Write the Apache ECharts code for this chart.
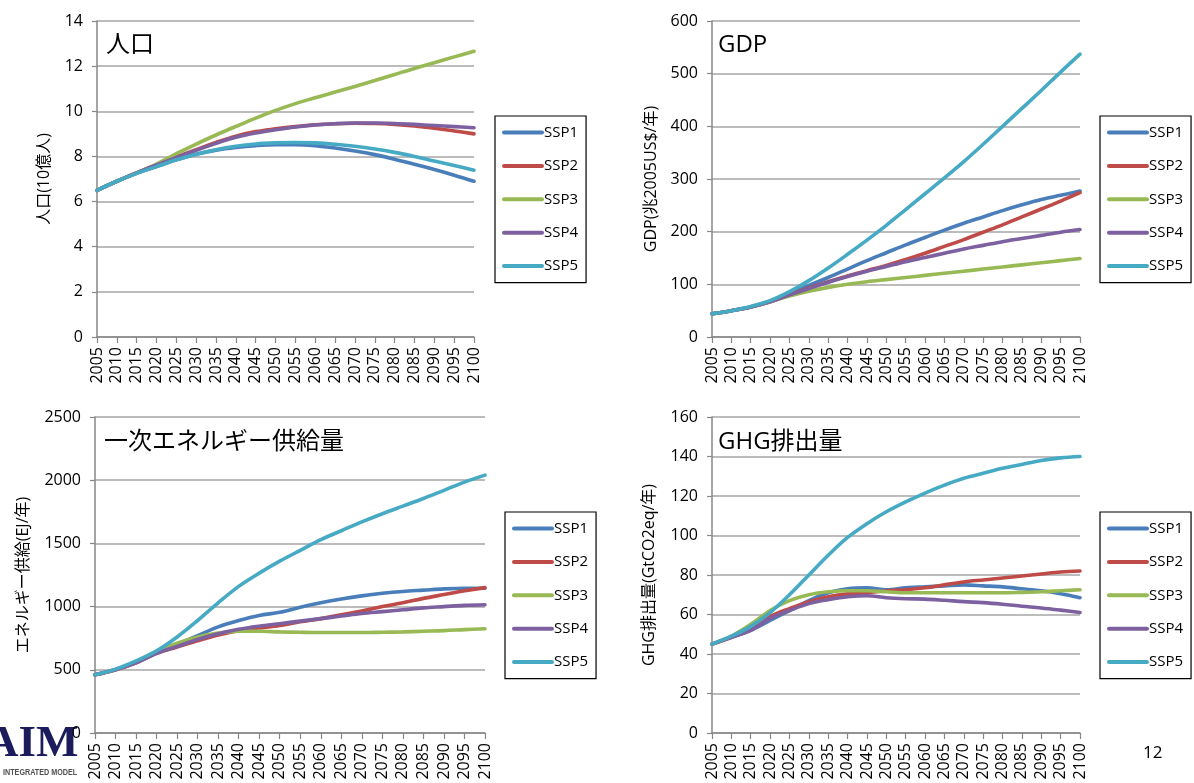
<!DOCTYPE html>
<html>
<head>
<meta charset="utf-8">
<script src="https://cdn.jsdelivr.net/npm/echarts@6/dist/echarts.min.js"></script>
<style>
  html, body { margin: 0; padding: 0; background: #fff; }
  #chart { width: 1194px; height: 783px; }
</style>
</head>
<body>
<div id="chart"></div>
<script>
// SSP scenario projections, 2005-2100 in 5-year steps
const years = ['2005','2010','2015','2020','2025','2030','2035','2040','2045','2050',
               '2055','2060','2065','2070','2075','2080','2085','2090','2095','2100'];
const scenarios = ['SSP1', 'SSP2', 'SSP3', 'SSP4', 'SSP5'];
const colors = ['#4A7EBB', '#BE4B48', '#98B954', '#7D60A0', '#46AAC5'];

// Population (billion people)
const popSSP1 = [6.5, 6.9, 7.25, 7.55, 7.85, 8.1, 8.28, 8.4, 8.48, 8.52, 8.52, 8.47, 8.37, 8.24, 8.08, 7.88, 7.65, 7.42, 7.17, 6.9];
const popSSP2 = [6.5, 6.9, 7.27, 7.62, 7.97, 8.3, 8.62, 8.9, 9.1, 9.22, 9.32, 9.4, 9.45, 9.47, 9.46, 9.42, 9.35, 9.25, 9.13, 9.0];
const popSSP3 = [6.5, 6.9, 7.28, 7.66, 8.12, 8.55, 8.95, 9.33, 9.7, 10.04, 10.34, 10.6, 10.85, 11.1, 11.36, 11.63, 11.9, 12.15, 12.41, 12.66];
const popSSP4 = [6.5, 6.9, 7.27, 7.62, 7.95, 8.27, 8.58, 8.85, 9.04, 9.18, 9.3, 9.39, 9.45, 9.48, 9.48, 9.46, 9.42, 9.37, 9.32, 9.27];
const popSSP5 = [6.5, 6.9, 7.25, 7.55, 7.85, 8.1, 8.3, 8.45, 8.55, 8.6, 8.62, 8.6, 8.54, 8.45, 8.33, 8.18, 8.0, 7.8, 7.6, 7.39];

// GDP (trillion 2005 US$ per year)
const gdpSSP1 = [44, 50, 57, 68, 82, 98, 113, 129, 145, 160, 175, 189, 203, 216, 228, 240, 251, 261, 269, 277];
const gdpSSP2 = [44, 50, 57, 67, 80, 93, 105, 116, 126, 136, 147, 159, 172, 185, 199, 213, 228, 243, 258, 274];
const gdpSSP3 = [44, 50, 57, 67, 78, 87, 94, 100, 105, 109, 113, 117, 121, 125, 129, 133, 137, 141, 145, 149];
const gdpSSP4 = [44, 50, 57, 67, 80, 92, 104, 115, 125, 134, 143, 151, 159, 167, 174, 181, 187, 193, 199, 204];
const gdpSSP5 = [44, 50, 58, 69, 86, 107, 131, 157, 184, 212, 242, 272, 302, 333, 366, 400, 434, 468, 503, 537];

// Primary energy supply (EJ per year)
const engSSP1 = [460, 500, 560, 640, 700, 770, 840, 890, 930, 955, 995, 1030, 1060, 1085, 1105, 1120, 1130, 1140, 1145, 1145];
const engSSP2 = [460, 500, 555, 630, 680, 730, 775, 810, 830, 850, 880, 905, 935, 965, 1000, 1030, 1065, 1095, 1125, 1150];
const engSSP3 = [460, 500, 560, 640, 710, 760, 790, 805, 805, 800, 797, 795, 795, 795, 797, 800, 805, 810, 818, 825];
const engSSP4 = [460, 500, 555, 630, 685, 740, 785, 820, 845, 865, 885, 905, 925, 945, 960, 975, 990, 1000, 1010, 1015];
const engSSP5 = [460, 505, 570, 650, 760, 890, 1030, 1160, 1265, 1360, 1445, 1530, 1600, 1670, 1735, 1795, 1855, 1920, 1985, 2040];

// GHG emissions (GtCO2eq per year)
const ghgSSP1 = [45, 48.5, 52, 57, 62, 67, 71, 73, 73.5, 72.5, 73.5, 74, 74.5, 75, 74.5, 74, 73, 72, 70.5, 68.5];
const ghgSSP2 = [45, 48.5, 53, 59, 63, 66.5, 69, 70.5, 71, 72, 72.5, 73.5, 75, 76.5, 77.5, 78.5, 79.5, 80.5, 81.5, 82];
const ghgSSP3 = [45, 49, 55, 62, 67, 70, 71.5, 72, 72, 71.5, 71, 71, 71, 71, 71, 71, 71.2, 71.5, 72, 72.5];
const ghgSSP4 = [45, 48.5, 52, 58, 62, 65.5, 67.5, 69, 69.5, 68.5, 68, 67.8, 67.2, 66.5, 66, 65.2, 64.2, 63.3, 62.2, 61];
const ghgSSP5 = [45, 49, 54, 61, 70, 80, 90, 99, 106, 112, 117, 121.5, 125.5, 129, 131.5, 134, 136, 138, 139.3, 140];

// Panel titles, axis names and axis ranges
const panelTitles = ['人口', 'GDP', '一次エネルギー供給量', 'GHG排出量'];
const axisNames = ['人口(10億人)', 'GDP(兆2005US$/年)', 'エネルギー供給(EJ/年)', 'GHG排出量(GtCO2eq/年)'];
const yMax = [14, 600, 2500, 160];
const yStep = [2, 100, 500, 20];

const panelData = [
  [popSSP1, popSSP2, popSSP3, popSSP4, popSSP5],
  [gdpSSP1, gdpSSP2, gdpSSP3, gdpSSP4, gdpSSP5],
  [engSSP1, engSSP2, engSSP3, engSSP4, engSSP5],
  [ghgSSP1, ghgSSP2, ghgSSP3, ghgSSP4, ghgSSP5]
];

// Panel placement
const FONT = "'Open Sans', 'Noto Sans CJK JP', sans-serif";
const grids = [
  { left: 97,  top: 21,  width: 377, height: 316 },
  { left: 712, top: 21,  width: 368, height: 316 },
  { left: 95,  top: 417, width: 390, height: 316 },
  { left: 712, top: 417, width: 368, height: 316 }
];
const nameGaps = [45, 53, 64, 55];
const legendPos = [
  { left: 495,  top: 116 },
  { left: 1100, top: 116 },
  { left: 505,  top: 512 },
  { left: 1100, top: 512 }
];
const titlePos = [
  { x: 106, y: 47 },
  { x: 718, y: 47 },
  { x: 104, y: 444 },
  { x: 718, y: 444 }
];

const xAxes = grids.map((g, i) => ({
  type: 'category',
  gridIndex: i,
  data: years,
  boundaryGap: false,
  axisLine: { lineStyle: { color: '#878787', width: 1.5 } },
  axisTick: { show: true, length: 6, interval: 0, lineStyle: { color: '#878787', width: 1.2 } },
  axisLabel: { rotate: 90, interval: 0, margin: 10, fontSize: 16, color: '#000', fontFamily: FONT },
  splitLine: { show: false }
}));

const yAxes = grids.map((g, i) => ({
  type: 'value',
  gridIndex: i,
  min: 0,
  max: yMax[i],
  interval: yStep[i],
  name: axisNames[i],
  nameLocation: 'middle',
  nameGap: nameGaps[i],
  nameRotate: 90,
  nameTextStyle: { fontSize: 16, color: '#000', fontFamily: FONT },
  axisLine: { show: true, lineStyle: { color: '#878787', width: 1.5 } },
  axisTick: { show: true, length: 5, lineStyle: { color: '#878787', width: 1.2 } },
  axisLabel: { margin: 14, fontSize: 16, color: '#000', fontFamily: FONT, formatter: v => String(v) },
  splitLine: { show: true, lineStyle: { color: '#A6A6A6', width: 1.5 } }
}));

const series = [];
panelData.forEach((sets, p) => {
  sets.forEach((vals, s) => {
    series.push({
      name: scenarios[s],
      type: 'line',
      xAxisIndex: p,
      yAxisIndex: p,
      data: vals,
      smooth: 0.35,
      symbol: 'none',
      showSymbol: false,
      color: colors[s],
      lineStyle: { width: 3.6, color: colors[s], cap: 'round' },
      animation: false
    });
  });
});

const legends = legendPos.map(pos => ({
  data: scenarios,
  orient: 'vertical',
  left: pos.left,
  top: pos.top,
  padding: [9, 8, 9, 7],
  itemGap: 18.4,
  itemWidth: 38,
  itemHeight: 14,
  borderColor: '#000',
  borderWidth: 1.2,
  selectedMode: false,
  itemStyle: { opacity: 0 },
  lineStyle: { width: 4, cap: 'round' },
  textStyle: { fontSize: 15, color: '#000', fontFamily: FONT, padding: [0, 0, 0, -3] }
}));

const graphics = titlePos.map((t, i) => ({
  type: 'text',
  left: t.x,
  top: t.y - 14,
  style: { text: panelTitles[i], fontSize: 24, fill: '#000', fontFamily: FONT }
}));

// Page number
graphics.push({
  type: 'text',
  left: 1143,
  top: 745,
  style: { text: '12', fontSize: 17, fill: '#000', fontFamily: FONT }
});

// AIM logo in the lower-left corner
graphics.push({
  type: 'text',
  x: -14,
  y: 722,
  style: { text: 'AIM', fontSize: 45, fontWeight: 'bold', fill: '#1C1C5C', fontFamily: "'Liberation Serif', serif" }
});
graphics.push({
  type: 'text',
  x: 3,
  y: 768,
  scaleX: 0.8,
  style: { text: 'INTEGRATED MODEL', fontSize: 9, fontWeight: 'bold', fill: '#505050', fontFamily: "'Liberation Sans', sans-serif" }
});

const chart = echarts.init(document.getElementById('chart'), null, { renderer: 'canvas' });
chart.setOption({
  backgroundColor: '#fff',
  animation: false,
  grid: grids,
  xAxis: xAxes,
  yAxis: yAxes,
  legend: legends,
  series: series,
  graphic: graphics
});
</script>
</body>
</html>
